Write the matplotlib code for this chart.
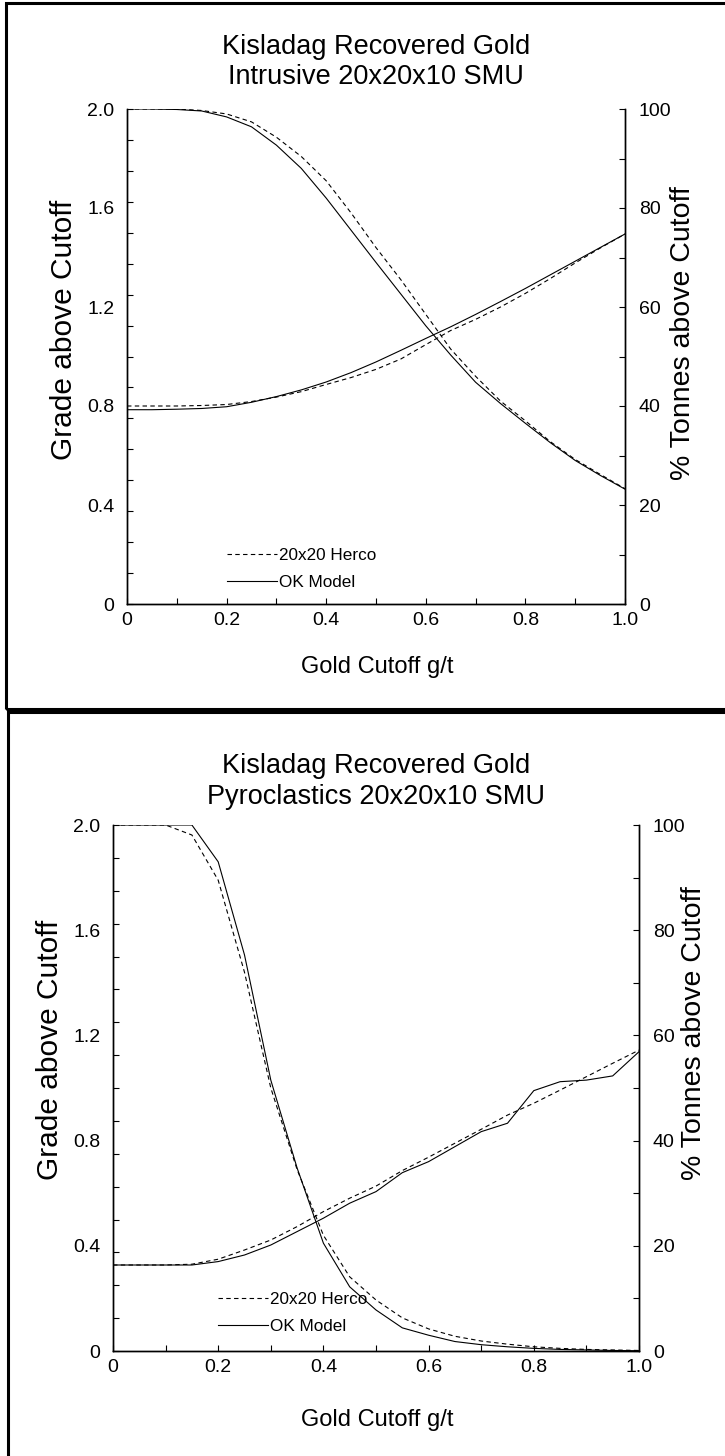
import matplotlib
matplotlib.use("Agg")
import matplotlib.pyplot as plt
from matplotlib.patches import Rectangle
from matplotlib.ticker import MultipleLocator, FixedLocator, FixedFormatter

plt.rcParams['font.family'] = ['Liberation Sans', 'DejaVu Sans']

# gold cutoff grid (g/t)
cutoff = [0.00, 0.05, 0.10, 0.15, 0.20, 0.25, 0.30, 0.35, 0.40, 0.45, 0.50,
          0.55, 0.60, 0.65, 0.70, 0.75, 0.80, 0.85, 0.90, 0.95, 1.00]

# Intrusive
intr_tonnes_ok = [100, 100, 99.9, 99.6, 98.4, 96.4, 92.7, 88.0, 82.0, 75.5, 69.0,
                  62.6, 56.2, 50.3, 44.8, 40.5, 36.5, 32.6, 29.0, 26.0, 23.2]
intr_tonnes_herco = [100, 100, 100, 99.7, 99.0, 97.4, 94.3, 90.4, 85.5, 79.0, 72.0,
                     65.5, 58.5, 51.5, 46.0, 41.0, 37.0, 32.8, 29.2, 26.2, 23.3]
intr_grade_ok = [0.785, 0.785, 0.787, 0.790, 0.797, 0.815, 0.838, 0.865, 0.897, 0.935, 0.978,
                 1.025, 1.073, 1.120, 1.170, 1.222, 1.275, 1.330, 1.385, 1.440, 1.495]
intr_grade_herco = [0.800, 0.800, 0.800, 0.802, 0.806, 0.818, 0.836, 0.858, 0.887, 0.915, 0.948,
                    0.990, 1.048, 1.105, 1.150, 1.200, 1.255, 1.315, 1.378, 1.438, 1.495]

# Pyroclastics
pyro_tonnes_ok = [100, 100, 100, 100, 93.0, 75.3, 51.5, 34.8, 20.5, 12.2, 7.8,
                  4.4, 3.0, 1.8, 1.2, 0.8, 0.5, 0.3, 0.2, 0.1, 0.05]
pyro_tonnes_herco = [100, 100, 100, 98.1, 89.5, 72.0, 50.0, 34.5, 22.0, 14.1, 9.7,
                     6.3, 4.2, 2.8, 1.9, 1.3, 0.8, 0.5, 0.3, 0.2, 0.1]
pyro_grade_ok = [0.327, 0.327, 0.327, 0.327, 0.340, 0.365, 0.403, 0.454, 0.505, 0.562, 0.606,
                 0.678, 0.720, 0.777, 0.834, 0.866, 0.990, 1.024, 1.030, 1.046, 1.138]
pyro_grade_herco = [0.327, 0.327, 0.327, 0.330, 0.349, 0.384, 0.422, 0.473, 0.530, 0.581, 0.627,
                    0.686, 0.737, 0.790, 0.843, 0.897, 0.942, 0.992, 1.043, 1.094, 1.144]

grade_ticks = [0, 0.4, 0.8, 1.2, 1.6, 2.0]
grade_labels = ["0", "0.4", "0.8", "1.2", "1.6", "2.0"]
pct_ticks = [0, 20, 40, 60, 80, 100]
pct_labels = ["0", "20", "40", "60", "80", "100"]
x_ticks = [0, 0.2, 0.4, 0.6, 0.8, 1.0]
x_labels = ["0", "0.2", "0.4", "0.6", "0.8", "1.0"]

W, H = 725, 1456
fig = plt.figure(figsize=(W / 100, H / 100), dpi=100)

DASH = (0, (4, 3))


def fx(px):
    return px / W


def fy(py):
    return 1 - py / H


def panel(rect, title, tonnes_ok, tonnes_herco, grade_ok, grade_herco, tpos, leg_y):
    left, top, right, bottom = rect
    ax = fig.add_axes([fx(left), fy(bottom), fx(right - left), (bottom - top) / H])
    ax2 = ax.twinx()

    ax.plot(cutoff, grade_herco, color='black', lw=0.8, ls=DASH, label='20x20 Herco')
    ax.plot(cutoff, grade_ok, color='black', lw=0.8, label='OK Model')
    ax2.plot(cutoff, tonnes_herco, color='black', lw=0.8, ls=DASH)
    ax2.plot(cutoff, tonnes_ok, color='black', lw=0.8)

    ax.set_xlim(0, 1.0)
    ax.set_ylim(0, 2.0)
    ax2.set_ylim(0, 100)

    for a in (ax, ax2):
        a.spines['top'].set_visible(False)
        for s in ('left', 'right', 'bottom'):
            a.spines[s].set_linewidth(1.0)

    ax.xaxis.set_major_locator(FixedLocator(x_ticks))
    ax.xaxis.set_major_formatter(FixedFormatter(x_labels))
    ax.xaxis.set_minor_locator(MultipleLocator(0.1))
    ax.tick_params(axis='x', which='both', direction='in', length=4.5, width=0.8,
                   labelsize=14, pad=6)

    ax.yaxis.set_major_locator(FixedLocator(grade_ticks))
    ax.yaxis.set_major_formatter(FixedFormatter(grade_labels))
    ax.yaxis.set_minor_locator(MultipleLocator(0.125))
    ax.yaxis.remove_overlapping_locs = False
    ax.tick_params(axis='y', which='major', direction='in', length=0,
                   labelsize=14, pad=9)
    ax.tick_params(axis='y', which='minor', direction='in', length=4.5, width=0.8)

    ax2.yaxis.set_major_locator(FixedLocator(pct_ticks))
    ax2.yaxis.set_major_formatter(FixedFormatter(pct_labels))
    ax2.yaxis.set_minor_locator(MultipleLocator(10))
    ax2.tick_params(axis='y', which='both', direction='in', length=4, width=0.8,
                    labelsize=14, pad=10)

    ax.legend(loc='lower left', bbox_to_anchor=(0.187, leg_y), frameon=False,
              fontsize=12.3, handlelength=2.9, handletextpad=0.15,
              labelspacing=0.7, borderaxespad=0)

    ty, lx, ly, rx, ry, xy = tpos
    cx = (left + right) / 2
    fig.text(fx(cx), fy(ty), title, ha='center', va='center', fontsize=19.5,
             linespacing=1.22)
    fig.text(fx(cx + 1), fy(xy), "Gold Cutoff g/t", ha='center', va='center', fontsize=17)
    fig.text(fx(lx), fy(ly), "Grade above Cutoff", ha='center', va='center',
             rotation=90, fontsize=21.5)
    fig.text(fx(rx), fy(ry), "% Tonnes above Cutoff", ha='center', va='center',
             rotation=90, fontsize=20.5)
    return ax


panel((127, 109, 625, 604), "Kisladag Recovered Gold\nIntrusive 20x20x10 SMU",
      intr_tonnes_ok, intr_tonnes_herco, intr_grade_ok, intr_grade_herco,
      (62, 64, 330, 683, 333, 667), 0.014)
panel((113, 825, 639, 1351), "Kisladag Recovered Gold\nPyroclastics 20x20x10 SMU",
      pyro_tonnes_ok, pyro_tonnes_herco, pyro_grade_ok, pyro_grade_herco,
      (781.5, 50, 1050, 694, 1033, 1420), 0.02)

# panel frames
fig.add_artist(Rectangle((fx(6), fy(709)), fx(760), (709 - 3) / H, transform=fig.transFigure,
                         fill=False, edgecolor='black', lw=2.2))
fig.add_artist(Rectangle((fx(8), fy(1500)), fx(760), (1500 - 712) / H, transform=fig.transFigure,
                         fill=False, edgecolor='black', lw=2.2))

fig.savefig("out.png", dpi=100)
